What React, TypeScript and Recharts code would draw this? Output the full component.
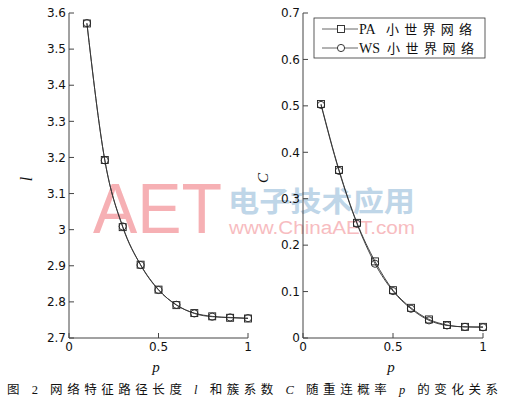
import React from 'react';
import { LineChart, Line, XAxis, YAxis } from 'recharts';

const pValues = [0.1, 0.2, 0.3, 0.4, 0.5, 0.6, 0.7, 0.8, 0.9, 1.0];
const lPA = [3.571, 3.193, 3.007, 2.903, 2.834, 2.791, 2.769, 2.76, 2.756, 2.754];
const lWS = [3.572, 3.192, 3.009, 2.902, 2.833, 2.792, 2.768, 2.759, 2.757, 2.755];
const cPA = [0.504, 0.362, 0.248, 0.165, 0.103, 0.065, 0.04, 0.028, 0.024, 0.024];
const cWS = [0.502, 0.36, 0.246, 0.16, 0.101, 0.063, 0.038, 0.027, 0.024, 0.023];

const xTicks = [0, 0.5, 1];
const lTicks = [2.7, 2.8, 2.9, 3, 3.1, 3.2, 3.3, 3.4, 3.5, 3.6];
const cTicks = [0, 0.1, 0.2, 0.3, 0.4, 0.5, 0.6, 0.7];

const seriesCodes = ['PA', 'WS'];
const seriesSuffix = '小世界网络';
const caption = ['图 2 网络特征路径长度 ', 'l', ' 和簇系数 ', 'C', ' 随重连概率 ', 'p', ' 的变化关系'];

const lData = pValues.map((p, i) => ({ p, a: lPA[i], b: lWS[i] }));
const cData = pValues.map((p, i) => ({ p, a: cPA[i], b: cWS[i] }));

const fmt = (v: number) => String(Number(v.toFixed(2)));
const AX = '#444';
const tickStyle = { fill: '#111', fontSize: 12, fontFamily: 'DejaVu Sans, Arial, sans-serif' };

const SquareDot = (props: any) => {
  const { cx, cy, key } = props;
  if (cx == null || cy == null) return <g key={key} />;
  return <rect key={key} x={cx - 3.5} y={cy - 3.5} width={7} height={7} fill="none" stroke="#222" strokeWidth={0.9} />;
};
const CircleDot = (props: any) => {
  const { cx, cy, key } = props;
  if (cx == null || cy == null) return <g key={key} />;
  return <circle key={key} cx={cx} cy={cy} r={3.6} fill="none" stroke="#222" strokeWidth={0.9} />;
};

function Panel(props: {
  left: number;
  yAxisWidth: number;
  marginRight: number;
  data: any[];
  domain: [number, number];
  ticks: number[];
}) {
  const { left, yAxisWidth, marginRight, data, domain, ticks } = props;
  return (
    <div style={{ position: 'absolute', left, top: 0 }}>
      <LineChart width={254} height={360} data={data} margin={{ top: 13, right: marginRight, bottom: 0, left: 0 }}>
        <XAxis
          dataKey="p"
          type="number"
          domain={[0, 1]}
          ticks={xTicks}
          height={22}
          tickSize={-5}
          tickMargin={9}
          tickFormatter={fmt}
          tick={tickStyle}
          stroke={AX}
          interval={0}
        />
        <XAxis
          xAxisId="top"
          orientation="top"
          type="number"
          domain={[0, 1]}
          ticks={xTicks}
          height={0}
          tickSize={-5}
          tick={false}
          stroke={AX}
          allowDataOverflow
          interval={0}
        />
        <YAxis
          type="number"
          domain={domain}
          ticks={ticks}
          width={yAxisWidth}
          tickSize={-5}
          tickMargin={8}
          tickFormatter={fmt}
          tick={tickStyle}
          stroke={AX}
          interval={0}
          allowDataOverflow
        />
        <YAxis
          yAxisId="right"
          orientation="right"
          type="number"
          domain={domain}
          ticks={ticks}
          width={0}
          tickSize={-5}
          tick={false}
          stroke={AX}
          interval={0}
          allowDataOverflow
        />
        <Line type="monotone" dataKey="a" stroke="#333" strokeWidth={0.9} dot={SquareDot} isAnimationActive={false} />
        <Line type="monotone" dataKey="b" stroke="#333" strokeWidth={0.9} dot={CircleDot} isAnimationActive={false} />
      </LineChart>
    </div>
  );
}

export default function App() {
  const serif = 'Liberation Serif, Times New Roman, serif';
  const cjk = 'Liberation Serif, Noto Sans CJK SC, serif';
  return (
    <div style={{ position: 'absolute', left: 0, top: 0, width: 508, height: 414, background: '#fff', overflow: 'hidden' }}>
      <svg width={508} height={414} style={{ position: 'absolute', left: 0, top: 0 }}>
        <text x={93} y={233} fontFamily="Liberation Sans, Arial, sans-serif" fontSize={71} fill="#f6b0b4" textLength={129} lengthAdjust="spacingAndGlyphs">AET</text>
        <text x={228} y={212} fontFamily="Noto Sans CJK SC, sans-serif" fontWeight={700} fontSize={28} fill="#bfd6e8" textLength={187} lengthAdjust="spacingAndGlyphs">电子技术应用</text>
        <text x={229} y={234} fontFamily="Liberation Sans, Arial, sans-serif" fontSize={18} fill="#f7bcc0" textLength={186} lengthAdjust="spacingAndGlyphs">www.ChinaAET.com</text>
      </svg>
      <Panel left={0} yAxisWidth={69} marginRight={6} data={lData} domain={[2.7, 3.6]} ticks={lTicks} />
      <Panel left={254} yAxisWidth={49} marginRight={25} data={cData} domain={[0, 0.7]} ticks={cTicks} />
      <svg width={508} height={414} style={{ position: 'absolute', left: 0, top: 0, pointerEvents: 'none' }}>
        <text x={26} y={179} transform="rotate(-90 26 179)" textAnchor="middle" dominantBaseline="central" fontFamily={serif} fontStyle="italic" fontSize={16} fill="#111">l</text>
        <text x={263} y={178} transform="rotate(-90 263 178)" textAnchor="middle" dominantBaseline="central" fontFamily={serif} fontStyle="italic" fontSize={15} fill="#111">C</text>
        <text x={156} y={372} textAnchor="middle" fontFamily={serif} fontStyle="italic" fontSize={15} fill="#111">p</text>
        <text x={391} y={372} textAnchor="middle" fontFamily={serif} fontStyle="italic" fontSize={15} fill="#111">p</text>
        <g>
          <rect x={314} y={18} width={171} height={40} fill="#fff" stroke="#333" strokeWidth={0.8} />
          <line x1={322} y1={29} x2={358} y2={29} stroke="#555" strokeWidth={0.9} />
          <rect x={337.5} y={25.5} width={7} height={7} fill="#fff" stroke="#222" strokeWidth={0.9} />
          <text x={359} y={34} fontFamily={serif} fontSize={14} fill="#111">{seriesCodes[0]}</text>
          <text x={386} y={34} fontFamily={cjk} fontSize={13} fill="#111" textLength={86} lengthAdjust="spacing">{seriesSuffix}</text>
          <line x1={322} y1={48} x2={358} y2={48} stroke="#555" strokeWidth={0.9} />
          <circle cx={341} cy={48} r={3.6} fill="#fff" stroke="#222" strokeWidth={0.9} />
          <text x={359} y={53} fontFamily={serif} fontSize={14} fill="#111">{seriesCodes[1]}</text>
          <text x={387} y={53} fontFamily={cjk} fontSize={13} fill="#111" textLength={87} lengthAdjust="spacing">{seriesSuffix}</text>
        </g>
        <text x={7} y={394} fontFamily={cjk} fontSize={12.5} fill="#111" textLength={491} lengthAdjust="spacing">
          {caption.map((s, i) => (
            <tspan key={i} fontStyle={i % 2 === 1 ? 'italic' : 'normal'} fontFamily={i % 2 === 1 ? serif : cjk}>{s}</tspan>
          ))}
        </text>
      </svg>
    </div>
  );
}
